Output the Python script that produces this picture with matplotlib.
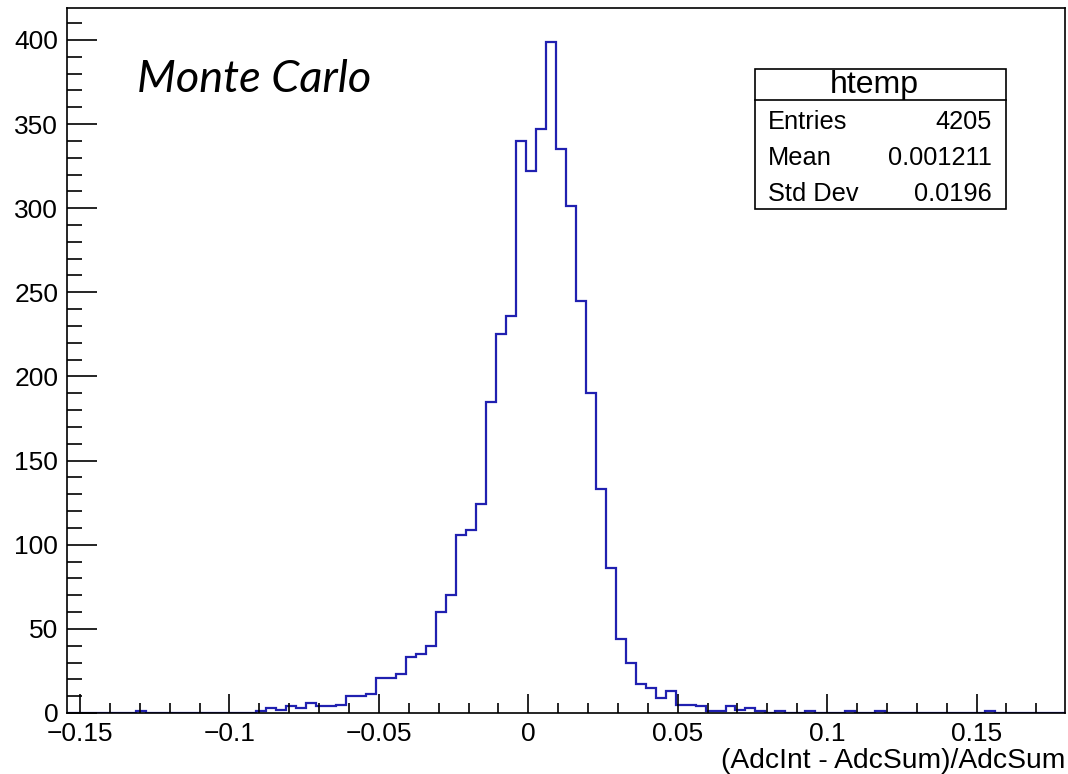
import numpy as np
import matplotlib
matplotlib.use("Agg")
from matplotlib import pyplot as plt
from matplotlib.patches import Rectangle

plt.rcParams['font.family'] = ['Liberation Sans', 'DejaVu Sans']

# histogram range and bin contents (100 bins)
x_min, x_max = -0.15452, 0.17960
counts = [
    0, 0, 0, 0, 0, 0, 0, 1, 0, 0,
    0, 0, 0, 0, 0, 0, 0, 0, 0, 1,
    3, 2, 4, 3, 6, 4, 4, 5, 10, 10,
    11, 21, 21, 23, 33, 35, 40, 60, 70, 106,
    109, 124, 185, 225, 236, 340, 322, 347, 399, 335,
    301, 245, 190, 133, 86, 44, 30, 17, 15, 9,
    13, 5, 5, 4, 1, 1, 4, 2, 3, 1,
    0, 1, 0, 0, 1, 0, 0, 0, 1, 0,
    0, 1, 0, 0, 0, 0, 0, 0, 0, 0,
    0, 0, 1, 0, 0, 0, 0, 0, 0, 0,
]
x_ticks = [-0.15, -0.1, -0.05, 0, 0.05, 0.1, 0.15]
x_tick_labels = ['\u22120.15', '\u22120.1', '\u22120.05', '0', '0.05', '0.1', '0.15']
y_ticks = [0, 50, 100, 150, 200, 250, 300, 350, 400]
stats_title = 'htemp'
stats_rows = [('Entries', '4205'), ('Mean', '0.001211'), ('Std Dev', '0.0196')]

W, H = 1068, 774
fig = plt.figure(figsize=(W / 100, H / 100), dpi=100)
ax = fig.add_axes([66.5 / W, 1 - 713 / H, (1065 - 66.5) / W, (713 - 8) / H])

edges = np.linspace(x_min, x_max, len(counts) + 1)
ax.stairs(counts, edges, color='#2020b0', linewidth=1.6)

ax.set_xlim(x_min, x_max)
ax.set_ylim(0, 1.05 * max(counts))

ax.set_xticks(x_ticks)
ax.set_xticklabels(x_tick_labels)
ax.set_xticks(np.arange(-0.15, 0.175, 0.01), minor=True)
ax.set_yticks(y_ticks)
ax.set_yticks(np.arange(0, 411, 10), minor=True)

ax.tick_params(axis='both', which='both', direction='in', top=False, right=False,
               labelsize=19, width=1.2)
ax.tick_params(axis='x', which='major', length=14, pad=6.5)
ax.tick_params(axis='x', which='minor', length=7)
ax.tick_params(axis='y', which='major', length=21.5, pad=6)
ax.tick_params(axis='y', which='minor', length=10.8)
for s in ax.spines.values():
    s.set_linewidth(1.2)

# axis title, right aligned under the frame
fig.text(1065 / W, 1 - 761 / H, '(AdcInt - AdcSum)/AdcSum', ha='right', va='center', fontsize=20.3)

# "Monte Carlo" label
fig.text(137 / W, 1 - 80 / H, 'Monte Carlo', ha='left', va='center', fontsize=32.5,
         style='italic', family=['Lato', 'DejaVu Sans'])

# stats box
bx0, bx1, by0, by1 = 755, 1006, 69, 209
fig.patches.append(Rectangle((bx0 / W, 1 - by1 / H), (bx1 - bx0) / W, (by1 - by0) / H,
                             transform=fig.transFigure, facecolor='white',
                             edgecolor='black', linewidth=1.2, zorder=5))
fig.add_artist(plt.Line2D([bx0 / W, bx1 / W], [1 - 100 / H, 1 - 100 / H],
                          transform=fig.transFigure, color='black', linewidth=1.2, zorder=6))
fig.text(874 / W, 1 - 85 / H, stats_title, ha='center', va='center',
         fontsize=23, zorder=7)
for i, (name, val) in enumerate(stats_rows):
    yy = 1 - (122 + 36 * i) / H
    fig.text(768 / W, yy, name, ha='left', va='center', fontsize=18.3, zorder=7)
    fig.text(992 / W, yy, val, ha='right', va='center', fontsize=18.3, zorder=7)

fig.savefig('out.png', dpi=100)
